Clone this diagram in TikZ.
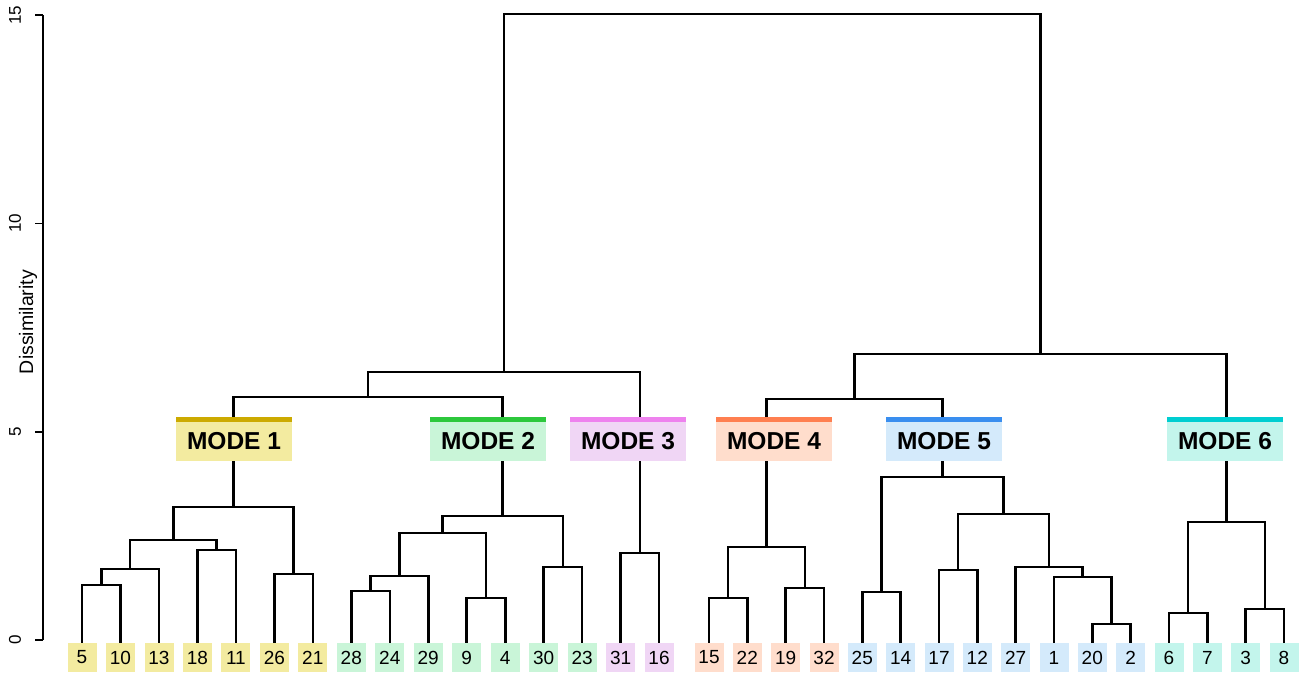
\documentclass[tikz,border=0pt]{standalone}
\usepackage{fontspec}
\setmainfont{Liberation Sans}
\usetikzlibrary{calc}

% cluster colours: bar colour and pale fill
\definecolor{barA}{HTML}{CCAA00}\definecolor{fillA}{HTML}{F3EBA0}
\definecolor{barB}{HTML}{2DC83C}\definecolor{fillB}{HTML}{C9F5D8}
\definecolor{barC}{HTML}{EE82EE}\definecolor{fillC}{HTML}{F0D6F5}
\definecolor{barD}{HTML}{FF7F50}\definecolor{fillD}{HTML}{FFDDCC}
\definecolor{barE}{HTML}{3A8EEF}\definecolor{fillE}{HTML}{D4EAFB}
\definecolor{barF}{HTML}{00CED1}\definecolor{fillF}{HTML}{C3F5EC}

\tikzset{
  branch/.style={line width=2.6pt, black},
  axisline/.style={line width=1.1pt, black},
  leaf/.style={minimum width=29pt, minimum height=29pt, inner sep=0pt,
    font=\fontsize{19}{19}\selectfont},
  modebox/.style={minimum width=116pt, minimum height=39pt, inner sep=0pt,
    font=\bfseries\fontsize{24.5}{24.5}\selectfont},
  ticklabel/.style={rotate=90, inner sep=0pt, font=\fontsize{17}{17}\selectfont},
}

% joins two subtrees at a given height; the join point sits midway between them
\newcommand\joinpair[4]{%
  \path let \p1=(#2), \p2=(#3) in coordinate (#1) at ({(\x1+\x2)/2}, #4);
  \draw[branch] (#2) |- (#1) -| (#3);}

\begin{document}
\begin{tikzpicture}[x=1pt, y=-1pt]
\useasboundingbox (0,0) rectangle (1302,675);

% leaves
\foreach \n/\x/\c in {5/82/fillA, 10/120.5/fillA, 13/159/fillA, 18/197.4/fillA,
  11/235.9/fillA, 26/274.4/fillA, 21/312.8/fillA,
  28/351.3/fillB, 24/389.8/fillB, 29/428.2/fillB, 9/466.7/fillB, 4/505.2/fillB,
  30/543.6/fillB, 23/582.1/fillB,
  31/620.6/fillC, 16/659/fillC,
  15/709/fillD, 22/747.3/fillD, 19/785.7/fillD, 32/824/fillD,
  25/862.3/fillE, 14/900.7/fillE, 17/939/fillE, 12/977.3/fillE, 27/1015.6/fillE,
  1/1054/fillE, 20/1092.3/fillE, 2/1130.6/fillE,
  6/1169/fillF, 7/1207.3/fillF, 3/1245.6/fillF, 8/1284/fillF}
  \node[leaf, fill=\c] (L\n) at (\x,657.5) {\n};

% cluster 1
\joinpair{a1}{L5.north}{L10.north}{585}
\joinpair{a2}{a1}{L13.north}{569}
\joinpair{a3}{L18.north}{L11.north}{550}
\joinpair{a4}{a2}{a3}{540}
\joinpair{a5}{L26.north}{L21.north}{574}
\joinpair{mA}{a4}{a5}{507}
% cluster 2
\joinpair{b1}{L28.north}{L24.north}{591}
\joinpair{b2}{b1}{L29.north}{576}
\joinpair{b3}{L9.north}{L4.north}{598}
\joinpair{b4}{b2}{b3}{533}
\joinpair{b5}{L30.north}{L23.north}{567}
\joinpair{mB}{b4}{b5}{516}
% cluster 3
\joinpair{mC}{L31.north}{L16.north}{553}
% cluster 4
\joinpair{d1}{L15.north}{L22.north}{598}
\joinpair{d2}{L19.north}{L32.north}{588}
\joinpair{mD}{d1}{d2}{547}
% cluster 5
\joinpair{e1}{L25.north}{L14.north}{592}
\joinpair{e2}{L17.north}{L12.north}{570}
\joinpair{e3}{L20.north}{L2.north}{624}
\joinpair{e4}{L1.north}{e3}{577}
\joinpair{e5}{L27.north}{e4}{567}
\joinpair{e6}{e2}{e5}{514}
\joinpair{mE}{e1}{e6}{477}
% cluster 6
\joinpair{f1}{L6.north}{L7.north}{613}
\joinpair{f2}{L3.north}{L8.north}{609}
\joinpair{mF}{f1}{f2}{522}
% upper levels
\joinpair{ab}{mA}{mB}{397}
\joinpair{abc}{ab}{mC}{372}
\joinpair{de}{mD}{mE}{399}
\joinpair{def}{de}{mF}{354}
\joinpair{root}{abc}{def}{14}

% mode labels with coloured top bar
\foreach \k/\x/\b/\f in {1/234/barA/fillA, 2/488/barB/fillB, 3/628/barC/fillC,
  4/774/barD/fillD, 5/944/barE/fillE, 6/1225/barF/fillF}{
  \node[modebox, fill=\f] (M\k) at (\x,441.5) {MODE \k};
  \fill[\b] (M\k.north west) rectangle ([yshift=5pt]M\k.north east);
}

% vertical axis
\coordinate (ax0) at (43,640);
\coordinate (ax15) at (43,15);
\draw[axisline] (ax0) -- (ax15);
\foreach \v/\y in {0/640, 5/432, 10/223.5, 15/15}{
  \coordinate (tk\v) at (43,\y);
  \draw[axisline] (tk\v) -- ++(-8,0);
  \node[ticklabel] (tl\v) at (15,\y) {\v};
}
\node[ticklabel, font=\fontsize{19.5}{19.5}\selectfont] (ylabel) at (28,322) {Dissimilarity};
\end{tikzpicture}
\end{document}
